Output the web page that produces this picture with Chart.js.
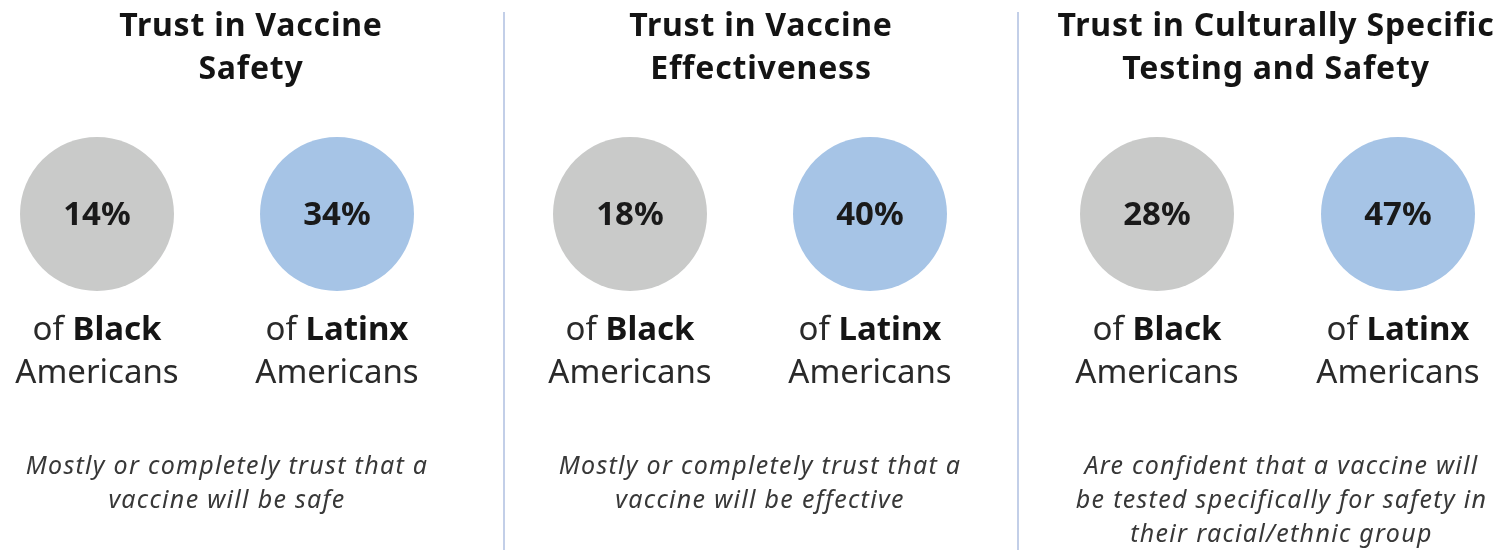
<!DOCTYPE html>
<html>
<head>
<meta charset="utf-8">
<script src="https://cdn.jsdelivr.net/npm/chart.js@4.4.1/dist/chart.umd.min.js"></script>
<style>
  html, body { margin: 0; padding: 0; background: #fff; }
  body { width: 1507px; height: 550px; position: relative; overflow: hidden; }
  canvas { position: absolute; top: 0; }
  .sep { position: absolute; top: 12px; bottom: 0; width: 2px; background: #c3cfe8; }
</style>
</head>
<body>
<canvas id="panel0" width="502" height="550" style="left:0px"></canvas>
<canvas id="panel1" width="512" height="550" style="left:505px"></canvas>
<canvas id="panel2" width="462" height="550" style="left:1045px"></canvas>
<div class="sep" style="left:503px"></div>
<div class="sep" style="left:1017px"></div>
<script>
// values
const panelTitles = [
    ['Trust in Vaccine', 'Safety'],
    ['Trust in Vaccine', 'Effectiveness'],
    ['Trust in Culturally Specific', 'Testing and Safety']
];
const groups = ['Black', 'Latinx'];
const blackShare = [14, 18, 28];
const latinxShare = [34, 40, 47];
const notes = [
    ['Mostly or completely trust that a', 'vaccine will be safe'],
    ['Mostly or completely trust that a', 'vaccine will be effective'],
    ['Are confident that a vaccine will', 'be tested specifically for safety in', 'their racial/ethnic group']
];

const groupColors = ['#c9cac9', '#a6c4e6'];
const FONT = '"Noto Sans", "DejaVu Sans", sans-serif';

// left / right padding puts the two circles where they sit in each panel
const panelPadding = [
    { left: 97, right: 165 },
    { left: 125, right: 147 },
    { left: 112, right: 109 }
];
const noteShift = [10, 10, 4];

const panelText = {
    id: 'panelText',
    afterDatasetsDraw(chart, args, opts) {
        const ctx = chart.ctx;
        const meta = chart.getDatasetMeta(0);
        ctx.save();
        ctx.textBaseline = 'middle';

        // panel title, centred on the canvas
        ctx.textAlign = 'center';
        ctx.fillStyle = '#141414';
        ctx.font = 'bold 32px ' + FONT;
        ctx.letterSpacing = '0.8px';
        opts.title.forEach((line, k) => {
            ctx.fillText(line, chart.width / 2, 27 + k * 43);
        });
        ctx.letterSpacing = '0px';

        meta.data.forEach((el, j) => {
            const raw = chart.data.datasets[0].data[j];
            // percentage inside the circle
            ctx.textAlign = 'center';
            ctx.fillStyle = '#1a1a1a';
            ctx.font = 'bold 33px ' + FONT;
            ctx.fillText(raw.v + '%', el.x, el.y + 2);

            // "of <b>Group</b>" line
            ctx.font = '33px ' + FONT;
            const w1 = ctx.measureText('of ').width;
            ctx.font = 'bold 33px ' + FONT;
            const w2 = ctx.measureText(raw.x).width;
            const x0 = el.x - (w1 + w2) / 2;
            ctx.textAlign = 'left';
            ctx.font = '33px ' + FONT;
            ctx.fillStyle = '#2a2a2a';
            ctx.fillText('of ', x0, el.y + 117);
            ctx.font = 'bold 33px ' + FONT;
            ctx.fillStyle = '#151515';
            ctx.fillText(raw.x, x0 + w1, el.y + 117);

            ctx.textAlign = 'center';
            ctx.font = '33px ' + FONT;
            ctx.fillStyle = '#2a2a2a';
            ctx.fillText('Americans', el.x, el.y + 160);
        });

        // italic note under the panel
        const cx = (chart.chartArea.left + chart.chartArea.right) / 2 + opts.shift;
        ctx.textAlign = 'center';
        ctx.font = 'italic 25px ' + FONT;
        ctx.letterSpacing = '1.3px';
        ctx.fillStyle = '#383838';
        opts.lines.forEach((line, k) => {
            ctx.fillText(line, cx, 467 + k * 34);
        });
        ctx.restore();
    }
};

panelTitles.forEach((title, i) => {
    const shares = [blackShare[i], latinxShare[i]];
    new Chart(document.getElementById('panel' + i), {
        type: 'scatter',
        data: {
            datasets: [{
                data: groups.map((g, j) => ({ x: g, y: 'share', v: shares[j] })),
                backgroundColor: groupColors,
                borderWidth: 0,
                pointRadius: 77,
                pointHoverRadius: 77,
                clip: false
            }]
        },
        options: {
            responsive: false,
            animation: false,
            events: [],
            layout: {
                padding: { left: panelPadding[i].left, right: panelPadding[i].right, top: 91, bottom: 213 }
            },
            scales: {
                x: { type: 'category', labels: groups, offset: false, display: false },
                y: { type: 'category', labels: ['share'], offset: true, display: false }
            },
            plugins: {
                legend: { display: false },
                tooltip: { enabled: false },
                panelText: { title: title, lines: notes[i], shift: noteShift[i] }
            }
        },
        plugins: [panelText]
    });
});
</script>
</body>
</html>
